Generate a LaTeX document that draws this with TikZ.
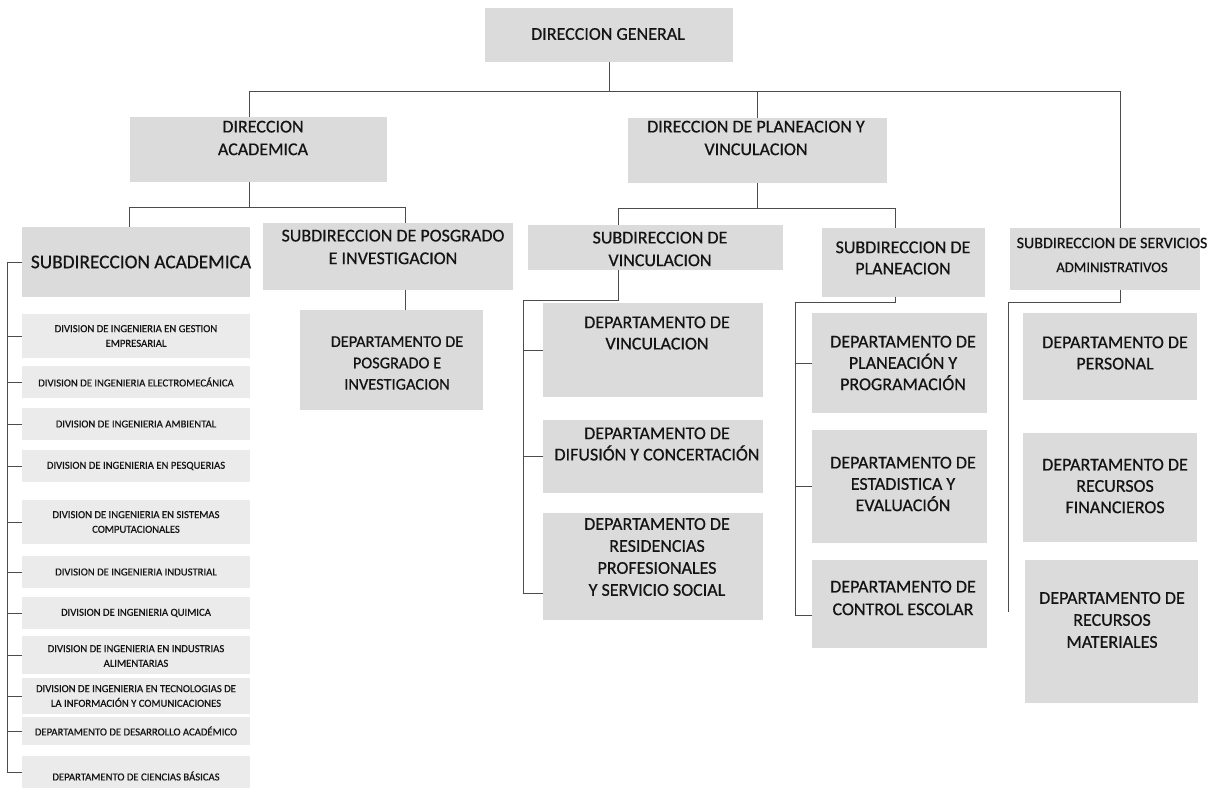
\documentclass[tikz,border=0pt]{standalone}
\usepackage{fontspec}
\setmainfont{Carlito}[FakeBold=0.6]
\usetikzlibrary{fit}
\definecolor{boxgray}{gray}{0.86}
\definecolor{lboxgray}{gray}{0.92}
\definecolor{linec}{gray}{0.3}
\definecolor{txtc}{gray}{0.08}
\tikzset{
  box/.style={fill=boxgray, draw=none, inner sep=0pt, outer sep=0pt, rectangle},
  lbox/.style={fill=lboxgray, draw=none, inner sep=0pt, outer sep=0pt, rectangle},
  hd/.style={font=\fontsize{13.5}{17}\selectfont, align=center, text=txtc, inner sep=0pt},
  hdsm/.style={font=\fontsize{12}{16}\selectfont, align=center, text=txtc, inner sep=0pt},
  hdlg/.style={font=\fontsize{14.5}{17}\selectfont, align=center, text=txtc, inner sep=0pt},
  item/.style={font=\fontsize{8}{11}\selectfont, align=center, text=txtc, inner sep=0pt},
  conn/.style={draw=linec, line width=0.6pt}
}
\begin{document}
\begin{tikzpicture}[x=0.75pt, y=-0.75pt]
\fill[white] (0,0) rectangle (1213,791);
\useasboundingbox (0,0) rectangle (1213,791);

% ---------- boxes ----------
\node[box, fit={(485,8)(733,62)}] (dg) {};
\node[box, fit={(130,117)(387,182)}] (da) {};
\node[box, fit={(628,118)(887,183)}] (dpv) {};
\node[box, fit={(22,227)(250,297)}] (sa) {};
\node[box, fit={(263,223)(513,290)}] (sp) {};
\node[box, fit={(300,310)(483,410)}] (dpi) {};
\node[box, fit={(528,225)(783,270)}] (sv) {};
\node[box, fit={(543,303)(763,397)}] (dv) {};
\node[box, fit={(543,420)(763,493)}] (ddc) {};
\node[box, fit={(543,513)(763,620)}] (dr) {};
\node[box, fit={(822,228)(985,297)}] (spl) {};
\node[box, fit={(812,313)(987,413)}] (dpp) {};
\node[box, fit={(812,430)(987,543)}] (dee) {};
\node[box, fit={(812,560)(987,648)}] (dce) {};
\node[box, fit={(1010,228)(1200,290)}] (ssa) {};
\node[box, fit={(1023,313)(1197,400)}] (dp) {};
\node[box, fit={(1023,433)(1197,542)}] (drf) {};
\node[box, fit={(1025,560)(1198,703)}] (drm) {};

% item boxes of Subdireccion Academica
\node[lbox, fit={(22,314)(250,358)}] (i1) {};
\node[lbox, fit={(22,366)(250,398)}] (i2) {};
\node[lbox, fit={(22,408)(250,440)}] (i3) {};
\node[lbox, fit={(22,450)(250,482)}] (i4) {};
\node[lbox, fit={(22,500)(250,544)}] (i5) {};
\node[lbox, fit={(22,556)(250,588)}] (i6) {};
\node[lbox, fit={(22,597)(250,629)}] (i7) {};
\node[lbox, fit={(22,636)(250,674)}] (i8) {};
\node[lbox, fit={(22,678)(250,714)}] (i9) {};
\node[lbox, fit={(22,717)(250,745)}] (i10) {};
\node[lbox, fit={(22,756)(250,788)}] (i11) {};

% ---------- texts ----------
\node[hd] (dgt) at (608,34) {DIRECCION GENERAL};
\node[hd] (dat) at (263,138) {DIRECCION\\ACADEMICA};
\node[hd] (dpvt) at (756,138) {DIRECCION DE PLANEACION Y\\VINCULACION};
\node[hdlg] (sat) at (141,262) {SUBDIRECCION ACADEMICA};
\node[hd] (spt) at (393,247) {SUBDIRECCION DE POSGRADO\\E INVESTIGACION};
\node[hdsm, font=\fontsize{12.3}{16}\selectfont] (dpit) at (397,363) {DEPARTAMENTO DE\\POSGRADO E\\INVESTIGACION};
\node[hd] (svt) at (660,249) {SUBDIRECCION DE\\VINCULACION};
\node[hd, font=\fontsize{13.5}{16}\selectfont] (dvt) at (657,333) {DEPARTAMENTO DE\\VINCULACION};
\node[hd, font=\fontsize{13.5}{16}\selectfont] (ddct) at (657,444) {DEPARTAMENTO DE\\DIFUSIÓN Y CONCERTACIÓN};
\node[hd, font=\fontsize{13.5}{16.5}\selectfont] (drt) at (657,557) {DEPARTAMENTO DE\\RESIDENCIAS\\PROFESIONALES\\Y SERVICIO SOCIAL};
\node[hd, font=\fontsize{13.5}{16}\selectfont] (splt) at (903,258) {SUBDIRECCION DE\\PLANEACION};
\node[hd, font=\fontsize{13.5}{16}\selectfont] (dppt) at (903,363) {DEPARTAMENTO DE\\PLANEACIÓN Y\\PROGRAMACIÓN};
\node[hd, font=\fontsize{13.5}{16}\selectfont] (deet) at (903,484) {DEPARTAMENTO DE\\ESTADISTICA Y\\EVALUACIÓN};
\node[hd, font=\fontsize{13.5}{17}\selectfont] (dcet) at (903,598) {DEPARTAMENTO DE\\CONTROL ESCOLAR};
\node[hdsm, font=\fontsize{12}{18}\selectfont] (ssat) at (1112,255) {SUBDIRECCION DE SERVICIOS\\{\fontsize{11}{18}\selectfont ADMINISTRATIVOS}};
\node[hd, font=\fontsize{13.5}{16}\selectfont] (dpt) at (1115,353) {DEPARTAMENTO DE\\PERSONAL};
\node[hd, font=\fontsize{13.5}{16}\selectfont] (drft) at (1115,486) {DEPARTAMENTO DE\\RECURSOS\\FINANCIEROS};
\node[hd, font=\fontsize{13.5}{16.5}\selectfont] (drmt) at (1112,620) {DEPARTAMENTO DE\\RECURSOS\\MATERIALES};

\node[item] (i1t) at (136,336) {DIVISION DE INGENIERIA EN GESTION\\EMPRESARIAL};
\node[item] (i2t) at (136,382) {DIVISION DE INGENIERIA ELECTROMECÁNICA};
\node[item] (i3t) at (136,424) {DIVISION DE INGENIERIA AMBIENTAL};
\node[item] (i4t) at (136,466) {DIVISION DE INGENIERIA EN PESQUERIAS};
\node[item] (i5t) at (136,522) {DIVISION DE INGENIERIA EN SISTEMAS\\COMPUTACIONALES};
\node[item] (i6t) at (136,572) {DIVISION DE INGENIERIA INDUSTRIAL};
\node[item] (i7t) at (136,613) {DIVISION DE INGENIERIA QUIMICA};
\node[item] (i8t) at (136,656) {DIVISION DE INGENIERIA EN INDUSTRIAS\\ALIMENTARIAS};
\node[item] (i9t) at (136,696) {DIVISION DE INGENIERIA EN TECNOLOGIAS DE\\LA INFORMACIÓN Y COMUNICACIONES};
\node[item] (i10t) at (136,731) {DEPARTAMENTO DE DESARROLLO ACADÉMICO};
\node[item] (i11t) at (136,776) {DEPARTAMENTO DE CIENCIAS BÁSICAS};

% ---------- connectors ----------
\coordinate (jDA) at (249,91);
\coordinate (jSSA) at (1120,91);
\draw[conn] (dg.south) -- (dg.south |- jDA);
\draw[conn] (jDA |- da.north) -- (jDA) -- (jSSA) -- (jSSA |- ssa.north);
\draw[conn] (dpv.north) -- (dpv.north |- jDA);

\coordinate (jA) at (129,207);
\coordinate (jB) at (405,207);
\draw[conn] (jDA |- da.south) -- (jDA |- jA);
\draw[conn] (jA |- sa.north) -- (jA) -- (jB) -- (jB |- sp.north);
\draw[conn] (jB |- sp.south) -- (jB |- dpi.north);

\coordinate (jC) at (618,208);
\coordinate (jD) at (895,208);
\draw[conn] (dpv.south) -- (dpv.south |- jC);
\draw[conn] (jC |- sv.north) -- (jC) -- (jD) -- (jD |- spl.north);

\coordinate (kV) at (523,300);
\coordinate (kR) at (523,593);
\draw[conn] (jC |- sv.south) |- (kV) -- (kR) -- (kR -| dr.west);
\draw[conn] (kV |- dv.west) -- (dv.west);
\draw[conn] (kV |- ddc.west) -- (ddc.west);

\coordinate (kP) at (795,302);
\coordinate (kE) at (795,615);
\draw[conn] (jD |- spl.south) |- (kP) -- (kE) -- (kE -| dce.west);
\draw[conn] (kP |- dpp.west) -- (dpp.west);
\draw[conn] (kP |- dee.west) -- (dee.west);

\coordinate (kS) at (1008,302);
\coordinate (kT) at (1008,612);
\draw[conn] (jSSA |- ssa.south) |- (kS) -- (kT);

\coordinate (kA) at (7,262);
\coordinate (kZ) at (7,772);
\draw[conn] (sa.west) -- (kA) -- (kZ) -- (i11.west);
\foreach \n in {i1,i2,i3,i4,i5,i6,i7,i8,i9,i10}{
  \draw[conn] (kA |- \n.west) -- (\n.west);
}
\end{tikzpicture}
\end{document}
